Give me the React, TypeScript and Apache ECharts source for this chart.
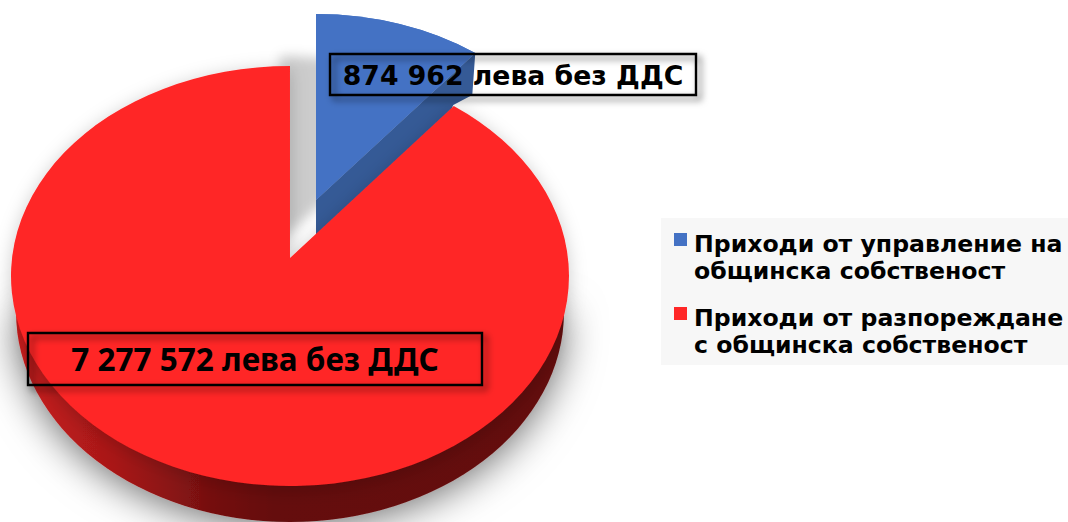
import React, { useEffect, useRef } from "react";
import * as echarts from "echarts";

const seriesNames = ["Приходи от управление на\nобщинска собственост", "Приходи от разпореждане\nс общинска собственост"];
const seriesValues = [874962, 7277572];
const seriesColors = ["#4472C4", "#FF2727"];
const valueSuffix = " лева без ДДС";

const total = seriesValues.reduce((a, b) => a + b, 0);
const fmt = (v: number) => String(v).replace(/\B(?=(\d{3})+(?!\d))/g, " ");

// plan-view angle -> point on the tilted ellipse, along a ray from the apex
function rim(phi: number, g: any) {
  const dx = Math.sin(phi) * g.rx;
  const dy = -Math.cos(phi) * g.tilt;
  const ox = g.ax - g.cx;
  const oy = g.ay - g.cy;
  const A = (dx * dx) / (g.rx * g.rx) + (dy * dy) / (g.ry * g.ry);
  const B = 2 * ((ox * dx) / (g.rx * g.rx) + (oy * dy) / (g.ry * g.ry));
  const C = (ox * ox) / (g.rx * g.rx) + (oy * oy) / (g.ry * g.ry) - 1;
  const t = (-B + Math.sqrt(B * B - 4 * A * C)) / (2 * A);
  return [g.ax + t * dx, g.ay + t * dy];
}

const redGeom = { ax: 290, ay: 258, cx: 290, cy: 276, rx: 279, ry: 210, tilt: 207 };
const blueGeom = { ax: 316, ay: 200, cx: 316, cy: 218, rx: 271, ry: 204, tilt: 200 };
const WALL = 36;

function wedge(g: any, a0: number, a1: number) {
  const p0 = rim(a0, g);
  const p1 = rim(a1 - 1e-4, g);
  const large = a1 - a0 > Math.PI ? 1 : 0;
  return `M${g.ax} ${g.ay}L${p0[0]} ${p0[1]}A${g.rx} ${g.ry} 0 ${large} 1 ${p1[0]} ${p1[1]}Z`;
}

const renderBlue = (_: any, api: any) => {
  const a1 = ((api.value(0) as number) / total) * Math.PI * 2;
  const g = blueGeom;
  const c = rim(a1, g);
  return {
    type: "group",
    children: [
      {
        type: "path",
        shape: { pathData: wedge(g, 0, a1) },
        style: { fill: seriesColors[0], shadowBlur: 12, shadowColor: "rgba(0,0,0,0.2)", shadowOffsetX: -36, shadowOffsetY: 42 },
      },
      {
        type: "polygon",
        shape: { points: [[g.ax, g.ay], c, [c[0] - 3, c[1] + 42], [c[0] - 22, c[1] + 52], [c[0] - 30, c[1] + 70], [g.ax, g.ay + WALL + 20]] },
        style: { fill: "#355A96" },
      },
      { type: "path", shape: { pathData: wedge(g, 0, a1) }, style: { fill: seriesColors[0] } },
    ],
  };
};

const renderRed = (_: any, api: any) => {
  const a0 = (seriesValues[0] / total) * Math.PI * 2;
  const a1 = a0 + ((api.value(0) as number) / total) * Math.PI * 2;
  const g = redGeom;
  const wrx = 274;
  const L = g.cx - wrx;
  const R = g.cx + wrx;
  const wy = g.cy + WALL;
  return {
    type: "group",
    children: [
      {
        type: "path",
        shape: { pathData: `M${L} ${wy}A${wrx} ${g.ry} 0 0 0 ${R} ${wy}Z` },
        style: {
          fill: new echarts.graphic.LinearGradient(0, 0, 1, 0, [
            { offset: 0, color: "#C81E1E" },
            { offset: 0.18, color: "#A81818" },
            { offset: 0.36, color: "#741010" },
            { offset: 0.47, color: "#650C0C" },
            { offset: 1, color: "#640C0C" },
          ]),
          shadowBlur: 40,
          shadowColor: "rgba(0,0,0,0.6)",
          shadowOffsetY: 4,
        },
      },
      {
        type: "path",
        shape: { pathData: wedge(g, a0, a1) },
        style: { fill: seriesColors[1], shadowBlur: 18, shadowColor: "rgba(0,0,0,0.2)", shadowOffsetY: 3 },
      },
    ],
  };
};

const labelBox = (x: number, y: number, w: number, h: number, text: string, font: string, dy: number) => [
  {
    type: "rect",
    z: 20,
    shape: { x, y, width: w, height: h },
    style: { fill: "none", stroke: "#000", lineWidth: 2.4, shadowBlur: 7, shadowOffsetX: 4, shadowOffsetY: 4, shadowColor: "rgba(0,0,0,0.6)" },
  },
  {
    type: "text",
    z: 21,
    x: x + w / 2,
    y: y + h / 2 + dy,
    style: { text, fill: "#000", font, textAlign: "center", textVerticalAlign: "middle" },
  },
];

export default function App() {
  const ref = useRef<HTMLDivElement>(null);
  useEffect(() => {
    const chart = echarts.init(ref.current!, undefined, { renderer: "svg" });
    chart.setOption({
      animation: false,
      backgroundColor: "#fff",
      legend: {
        left: 661,
        top: 218,
        right: 0,
        width: 407,
        orient: "vertical",
        backgroundColor: "#F7F7F7",
        padding: [12, 12, 7, 13],
        itemWidth: 13,
        itemHeight: 54,
        itemGap: 20,
        icon: "path://M0 3H13V16H0ZM0 0L13 0M0 54L13 54",
        itemStyle: { borderWidth: 0 },
        data: seriesNames.map((n, i) => ({ name: n, itemStyle: { color: seriesColors[i] } })),
        textStyle: { fontFamily: "DejaVu Sans", fontWeight: "bold", fontSize: 23.6, lineHeight: 27, color: "#000", padding: [0, 0, 0, 2] },
      },
      series: [
        { type: "custom", name: seriesNames[0], coordinateSystem: "none", silent: true, z: 2, renderItem: renderBlue, itemStyle: { color: seriesColors[0] }, data: [[seriesValues[0]]] },
        { type: "custom", name: seriesNames[1], coordinateSystem: "none", silent: true, z: 3, renderItem: renderRed, itemStyle: { color: seriesColors[1] }, data: [[seriesValues[1]]] },
      ],
      graphic: [
        ...labelBox(330, 54, 366, 41, fmt(seriesValues[0]) + valueSuffix, "bold 26.7px 'DejaVu Sans'", 1),
        ...labelBox(28, 333, 454, 52, fmt(seriesValues[1]) + valueSuffix, "bold 31.5px 'Noto Sans'", -1),
      ],
    });
    return () => chart.dispose();
  }, []);
  return <div ref={ref} style={{ position: "fixed", left: 0, top: 0, width: 1068, height: 522 }} />;
}
